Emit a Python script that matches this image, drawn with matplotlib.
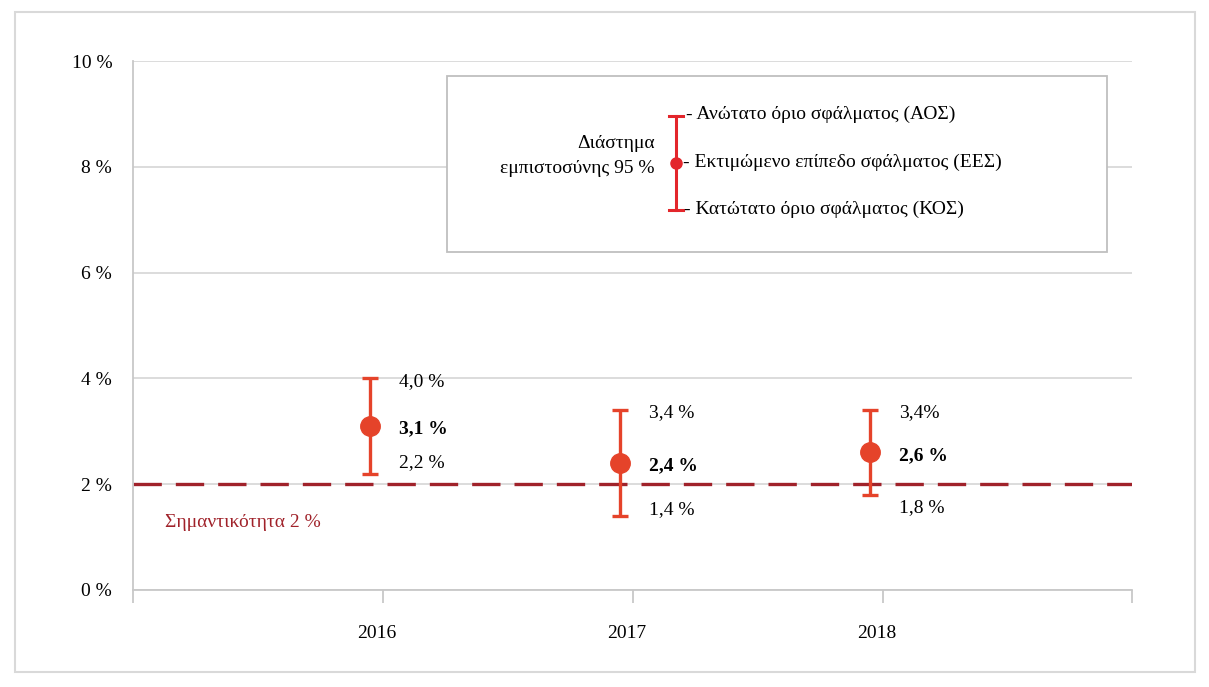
import matplotlib.pyplot as plt
from matplotlib.lines import Line2D
from matplotlib.patches import Rectangle

# data
years = [2016, 2017, 2018]
estimate = [3.1, 2.4, 2.6]
upper = [4.0, 3.4, 3.4]
lower = [2.2, 1.4, 1.8]
upper_labels = ['4,0 %', '3,4 %', '3,4%']
estimate_labels = ['3,1 %', '2,4 %', '2,6 %']
lower_labels = ['2,2 %', '1,4 %', '1,8 %']
threshold = 2.0
y_ticks = [0, 2, 4, 6, 8, 10]

plt.rcParams['font.family'] = ['Liberation Serif', 'DejaVu Serif']

W, H = 1209, 687
fig = plt.figure(figsize=(W / 100, H / 100), dpi=100)

def fx(px):
    return px / W

def fy(py):
    return 1 - py / H

# outer frame
fig.add_artist(Rectangle((fx(15), fy(672)), fx(1195) - fx(15), fy(12) - fy(672),
                         transform=fig.transFigure, fill=False,
                         edgecolor='#d9d9d9', linewidth=1.5))

ax = fig.add_axes([fx(133), fy(590), fx(1132) - fx(133), fy(61) - fy(590)])

err_color = '#e5432a'
line_red = '#a0222a'
fs = 14

ax.set_ylim(0, 10)
ax.set_xlim(2015.052, 2019.048)
ax.set_yticks(y_ticks)
ax.set_yticklabels([f'{t} %' for t in y_ticks], fontsize=fs)
ax.tick_params(axis='y', length=0, pad=15)
ax.grid(axis='y', color='#d9d9d9', linewidth=1.3)
ax.set_axisbelow(True)

for s in ['top', 'right']:
    ax.spines[s].set_visible(False)
ax.spines['left'].set_color('#c8c8c8')
ax.spines['bottom'].set_color('#c8c8c8')
ax.spines['left'].set_linewidth(1.3)
ax.spines['bottom'].set_linewidth(1.3)

# tick marks between categories, labels at the points
ax.set_xticks([2015.052, 2016.052, 2017.052, 2018.052, 2019.048])
ax.set_xticklabels([])
ax.tick_params(axis='x', length=9, color='#c8c8c8', width=1.3)
for yr in years:
    ax.text(yr + 0.025, -0.82, str(yr), fontsize=fs, ha='center', va='center')

# threshold line
ax.axhline(threshold, color=line_red, linewidth=2.4, dashes=(8.5, 4.2), zorder=2)
ax.text(2015.18, 1.27, 'Σημαντικότητα 2 %', color=line_red, fontsize=fs,
        va='center', ha='left')

# error bars
yerr = [[e - l for e, l in zip(estimate, lower)], [u - e for u, e in zip(upper, estimate)]]
ax.errorbar(years, estimate, yerr=yerr, fmt='o', color=err_color, ecolor=err_color,
            markersize=14, elinewidth=2.4, capsize=6, capthick=2.4, zorder=4)

lower_shift = [0.2, 0.12, -0.25]
for i, yr in enumerate(years):
    ax.annotate(upper_labels[i], (yr, upper[i]), xytext=(21, -2), textcoords='offset points',
                fontsize=fs, va='center', ha='left')
    ax.annotate(estimate_labels[i], (yr, estimate[i]), xytext=(21, -2), textcoords='offset points',
                fontsize=fs, va='center', ha='left', fontweight='bold')
    ax.annotate(lower_labels[i], (yr, lower[i] + lower_shift[i]), xytext=(21, 0),
                textcoords='offset points', fontsize=fs, va='center', ha='left')

# legend box drawn by hand
fig.add_artist(Rectangle((fx(447), fy(252)), fx(1107) - fx(447), fy(76) - fy(252),
                         transform=fig.transFigure, facecolor='white',
                         edgecolor='#bfbfbf', linewidth=1.3, zorder=5))
leg_red = '#e3262b'
bx = fx(676)
fig.add_artist(Line2D([bx, bx], [fy(116), fy(210)], transform=fig.transFigure,
                      color=leg_red, linewidth=2.2, zorder=6))
for cy in (116, 210):
    fig.add_artist(Line2D([fx(669), fx(683)], [fy(cy), fy(cy)], transform=fig.transFigure,
                          color=leg_red, linewidth=2.2, zorder=6))
fig.add_artist(Line2D([bx], [fy(163)], transform=fig.transFigure, marker='o',
                      markersize=8, color=leg_red, zorder=6))
fig.text(fx(655), fy(156), 'Διάστημα\nεμπιστοσύνης 95 %', ha='right', va='center',
         fontsize=fs, linespacing=1.6, zorder=7)
fig.text(fx(686), fy(114), '- Ανώτατο όριο σφάλματος (ΑΟΣ)', ha='left', va='center',
         fontsize=fs, zorder=7)
fig.text(fx(683), fy(162), '- Εκτιμώμενο επίπεδο σφάλματος (ΕΕΣ)', ha='left', va='center',
         fontsize=fs, zorder=7)
fig.text(fx(684), fy(209), '- Κατώτατο όριο σφάλματος (ΚΟΣ)', ha='left', va='center',
         fontsize=fs, zorder=7)

fig.savefig('out.png', dpi=100)
